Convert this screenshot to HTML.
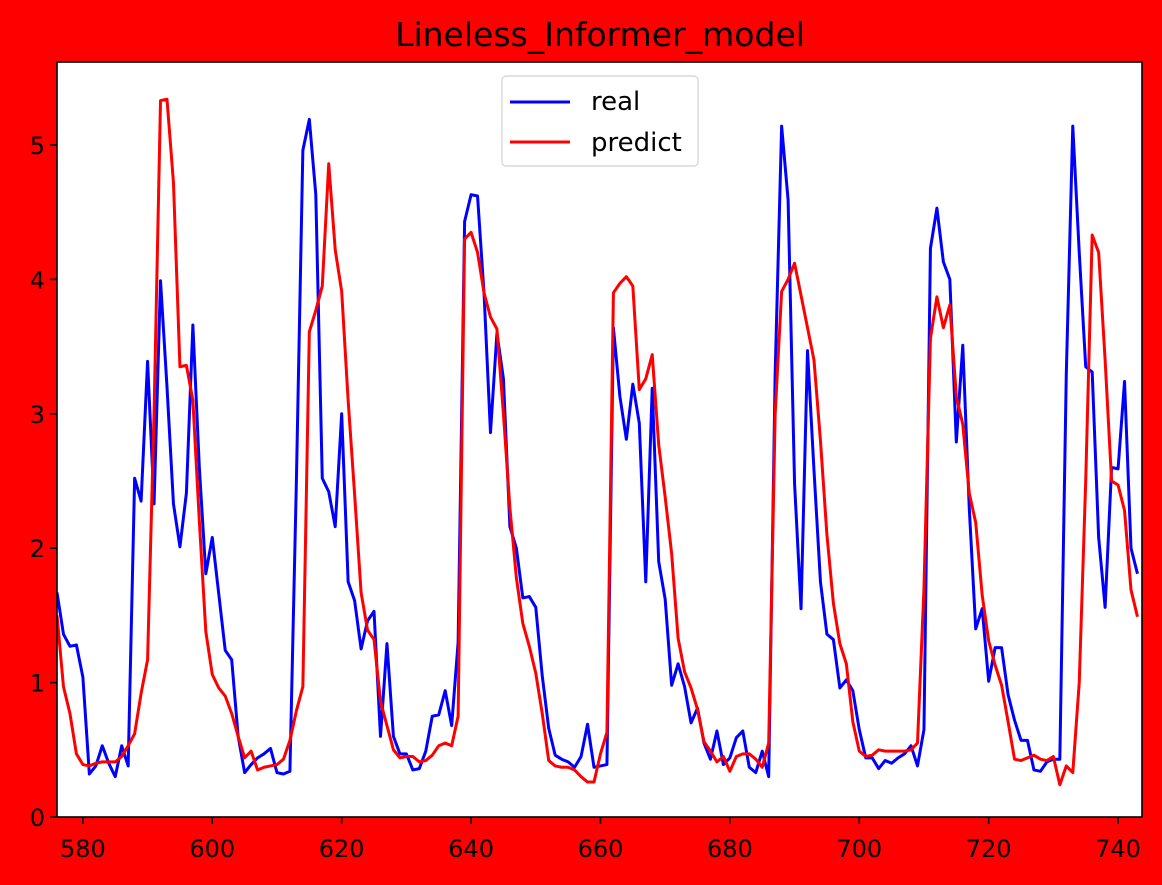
<!DOCTYPE html>
<html><head><meta charset="utf-8"><style>
html,body{margin:0;padding:0;background:#f00;}
svg{display:block;font-family:"DejaVu Sans","Liberation Sans",sans-serif;}
</style></head><body>
<svg id="chart" width="1162" height="885">
<rect x="0" y="0" width="1162" height="885" fill="#ff0000"/>
<text x="600" y="46" font-size="33" text-anchor="middle">Lineless_Informer_model</text>
<rect x="57" y="62" width="1085" height="755" fill="#fff"/>
<g id="ticks"></g>
<defs><clipPath id="clip"><rect x="57" y="62" width="1085" height="755"/></clipPath></defs>
<g id="series" clip-path="url(#clip)"></g>
<rect x="57" y="62" width="1085" height="755" fill="none" stroke="#000" stroke-width="1.6"/>
<g>
<rect x="502" y="76" width="196" height="90" rx="4" fill="#fff" fill-opacity="0.8" stroke="#d8d8d8" stroke-width="1.4"/>
<line x1="510" y1="102" x2="570" y2="102" stroke="#0000ff" stroke-width="3"/>
<text x="591" y="110" font-size="26">real</text>
<line x1="510" y1="142" x2="570" y2="142" stroke="#ff0000" stroke-width="3"/>
<text x="591" y="151" font-size="26">predict</text>
</g>
</svg>
<script>
const startX = 576;
const realValues = [1.67,1.36,1.27,1.28,1.04,0.32,0.38,0.53,0.40,0.30,0.53,0.38,2.52,2.35,3.39,2.33,3.99,3.2,2.33,2.01,2.41,3.66,2.6,1.81,2.08,1.66,1.24,1.17,0.6,0.33,0.39,0.44,0.47,0.51,0.33,0.32,0.34,2.5,4.96,5.19,4.63,2.52,2.42,2.16,3.0,1.75,1.61,1.25,1.46,1.53,0.60,1.29,0.60,0.47,0.47,0.35,0.36,0.49,0.75,0.76,0.94,0.68,1.3,4.43,4.63,4.62,3.9,2.86,3.6,3.26,2.16,2.0,1.63,1.64,1.56,1.05,0.66,0.46,0.43,0.41,0.37,0.45,0.69,0.37,0.38,0.39,3.64,3.13,2.81,3.22,2.93,1.75,3.19,1.9,1.62,0.98,1.14,0.97,0.70,0.81,0.55,0.43,0.64,0.39,0.44,0.59,0.64,0.37,0.33,0.49,0.30,3.3,5.14,4.59,2.48,1.55,3.47,2.58,1.75,1.36,1.32,0.96,1.02,0.94,0.65,0.44,0.44,0.36,0.42,0.40,0.44,0.47,0.53,0.38,0.65,4.23,4.53,4.13,4.00,2.79,3.51,2.3,1.40,1.55,1.01,1.26,1.26,0.91,0.72,0.57,0.57,0.35,0.34,0.41,0.43,0.43,3.3,5.14,4.2,3.35,3.31,2.08,1.56,2.6,2.59,3.24,2.0,1.81];
const predictValues = [1.5,0.97,0.77,0.47,0.39,0.38,0.40,0.41,0.41,0.41,0.45,0.53,0.62,0.92,1.17,3.0,5.33,5.34,4.72,3.35,3.36,3.1,2.2,1.38,1.06,0.96,0.90,0.77,0.60,0.44,0.49,0.35,0.37,0.38,0.39,0.43,0.57,0.79,0.97,3.61,3.77,3.95,4.86,4.22,3.91,3.1,2.4,1.67,1.39,1.32,0.86,0.68,0.50,0.44,0.45,0.45,0.41,0.42,0.46,0.53,0.55,0.53,0.75,4.30,4.35,4.2,3.9,3.72,3.63,3.0,2.3,1.78,1.44,1.27,1.07,0.77,0.42,0.38,0.37,0.37,0.35,0.30,0.26,0.26,0.47,0.63,3.90,3.97,4.02,3.95,3.18,3.26,3.44,2.77,2.38,1.96,1.33,1.08,0.96,0.80,0.56,0.49,0.41,0.45,0.34,0.45,0.47,0.47,0.43,0.37,0.55,3.0,3.91,4.00,4.12,3.88,3.64,3.40,2.80,2.1,1.59,1.29,1.14,0.71,0.49,0.45,0.46,0.50,0.49,0.49,0.49,0.49,0.50,0.55,1.7,3.56,3.87,3.64,3.81,3.13,2.92,2.41,2.19,1.65,1.31,1.13,0.98,0.71,0.43,0.42,0.44,0.46,0.43,0.42,0.45,0.24,0.38,0.33,1.0,2.5,4.33,4.2,3.4,2.5,2.47,2.28,1.69,1.49];
const xTicks = [580,600,620,640,660,680,700,720,740];
const yTicks = [0,1,2,3,4,5];

const X0=57,X1=1142,Y0=817,Y1=62,XMIN=576,XMAX=743.7,YMIN=0,YMAX=5.617;
const sx=v=>X0+(v-XMIN)/(XMAX-XMIN)*(X1-X0);
const sy=v=>Y0-(v-YMIN)/(YMAX-YMIN)*(Y0-Y1);
const NS="http://www.w3.org/2000/svg";
const tg=document.getElementById('ticks');
xTicks.forEach(t=>{
  const l=document.createElementNS(NS,'line');
  l.setAttribute('x1',sx(t));l.setAttribute('x2',sx(t));l.setAttribute('y1',Y0);l.setAttribute('y2',Y0+7);
  l.setAttribute('stroke','#000');l.setAttribute('stroke-width','1.6');
  
  
  tg.appendChild(l);
  const tx=document.createElementNS(NS,'text');
  tx.setAttribute('x',sx(t));tx.setAttribute('y',Y0+40);tx.setAttribute('font-size','24');tx.setAttribute('text-anchor','middle');
  tx.textContent=t;
  
  
  tg.appendChild(tx);
});
yTicks.forEach(t=>{
  const l=document.createElementNS(NS,'line');
  l.setAttribute('x1',X0-7);l.setAttribute('x2',X0);l.setAttribute('y1',sy(t));l.setAttribute('y2',sy(t));
  l.setAttribute('stroke','#000');l.setAttribute('stroke-width','1.6');
  
  
  tg.appendChild(l);
  const tx=document.createElementNS(NS,'text');
  tx.setAttribute('x',X0-12);tx.setAttribute('y',sy(t)+9);tx.setAttribute('font-size','24');tx.setAttribute('text-anchor','end');
  tx.textContent=t;
  
  
  tg.appendChild(tx);
});
const sg=document.getElementById('series');
function drawLine(vals,color,name){
  const p=document.createElementNS(NS,'polyline');
  p.setAttribute('points',vals.map((v,i)=>sx(startX+i).toFixed(2)+','+sy(v).toFixed(2)).join(' '));
  p.setAttribute('fill','none');p.setAttribute('stroke',color);p.setAttribute('stroke-width','3');p.setAttribute('stroke-linejoin','round');
  
  
  sg.appendChild(p);
}
drawLine(realValues,'#0000ff','real-line');
drawLine(predictValues,'#ff0000','predict-line');
</script>
</body></html>
